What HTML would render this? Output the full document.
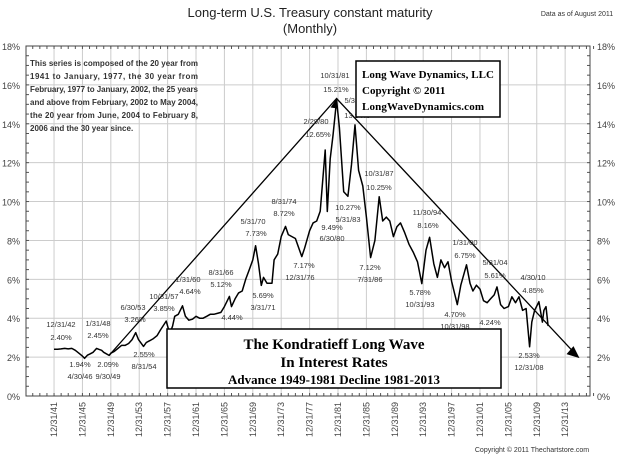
<!DOCTYPE html>
<html><head><meta charset="utf-8"><style>
body{margin:0;background:#fff;}
svg{display:block;font-family:"Liberation Sans",Arial,sans-serif;}
</style></head><body>
<svg id="c" width="620" height="456" viewBox="0 0 620 456">
<text x="310" y="17" text-anchor="middle" font-size="13" fill="#222">Long-term U.S. Treasury constant maturity</text>
<text x="310" y="33" text-anchor="middle" font-size="13" fill="#222">(Monthly)</text>
<text x="577" y="16" text-anchor="middle" font-size="7" fill="#333">Data as of August 2011</text>
<text x="532" y="452" text-anchor="middle" font-size="7" fill="#333">Copyright © 2011 Thechartstore.com</text>
<g id="grid"></g>
<g id="axes"></g>
<g id="series"></g>
<g id="notes"></g>
<g font-size="8" font-weight="bold" fill="#333">
<text x="30" y="66" textLength="168">This series is composed of the 20 year from</text>
<text x="30" y="79" textLength="168">1941 to January, 1977, the 30 year from</text>
<text x="30" y="92" textLength="168">February, 1977 to January, 2002, the 25 years</text>
<text x="30" y="105" textLength="168">and above from February, 2002 to May 2004,</text>
<text x="30" y="118" textLength="168">the 20 year from June, 2004 to February 8,</text>
<text x="30" y="131">2006 and the 30 year since.</text>
</g>
<g>
<rect x="356" y="61" width="144" height="56" fill="#fff" stroke="#000" stroke-width="1.5"/>
<text x="362" y="78" font-family="'Liberation Serif',serif" font-weight="bold" font-size="11" textLength="132">Long Wave Dynamics, LLC</text>
<text x="362" y="94" font-family="'Liberation Serif',serif" font-weight="bold" font-size="11">Copyright © 2011</text>
<text x="362" y="110" font-family="'Liberation Serif',serif" font-weight="bold" font-size="11" textLength="122">LongWaveDynamics.com</text>
</g>
<g>
<rect x="167" y="329" width="334" height="59" fill="#fff" stroke="#000" stroke-width="1.5"/>
<text x="334" y="349" text-anchor="middle" font-family="'Liberation Serif',serif" font-weight="bold" font-size="15">The Kondratieff Long Wave</text>
<text x="334" y="367" text-anchor="middle" font-family="'Liberation Serif',serif" font-weight="bold" font-size="15">In Interest Rates</text>
<text x="334" y="384" text-anchor="middle" font-family="'Liberation Serif',serif" font-weight="bold" font-size="13">Advance 1949-1981 Decline 1981-2013</text>
</g>
</svg>
<script>
const yearTicks=[1941,1945,1949,1953,1957,1961,1965,1969,1973,1977,1981,1985,1989,1993,1997,2001,2005,2009,2013];
const yTicks=[0,2,4,6,8,10,12,14,16,18];
const years=[1942,1942.5,1943,1943.5,1944,1944.5,1945,1945.5,1946,1946.3,1946.7,1947,1947.5,1948,1948.3,1948.7,1949,1949.75,1950,1950.5,1951,1951.5,1952,1952.5,1953,1953.5,1953.9,1954.6,1955,1955.5,1956,1956.5,1957,1957.8,1958.3,1958.7,1959,1959.5,1960.1,1960.5,1961,1961.5,1962,1962.5,1963,1963.5,1964,1964.5,1965,1965.5,1966,1966.7,1967,1967.5,1968,1968.5,1969,1969.5,1970,1970.4,1970.8,1971.2,1971.5,1972,1972.7,1973,1973.5,1974,1974.6,1975,1975.5,1976,1976.9,1977.3,1978,1978.5,1979,1979.5,1980.2,1980.5,1980.9,1981.3,1981.8,1982.2,1982.8,1983.4,1983.9,1984.4,1984.9,1985.5,1986,1986.6,1987.2,1987.8,1988.3,1988.8,1989.3,1989.8,1990.3,1990.8,1991.4,1992,1992.6,1993.2,1993.8,1994.4,1994.9,1995.5,1996,1996.5,1997,1997.5,1998,1998.8,1999.3,2000.1,2000.6,2001,2001.5,2002,2002.5,2003,2003.5,2004,2004.4,2004.9,2005.4,2006,2006.5,2007,2007.5,2008,2008.5,2008.99,2009.3,2009.7,2010.3,2010.8,2011,2011.3,2011.6];
const yields=[2.4,2.4,2.42,2.45,2.42,2.45,2.35,2.2,2.05,1.94,2.1,2.15,2.25,2.45,2.4,2.35,2.25,2.09,2.2,2.3,2.45,2.6,2.6,2.7,2.9,3.26,2.9,2.55,2.75,2.85,2.95,3.1,3.4,3.85,3.2,3.6,4.1,4.2,4.64,4.1,3.9,3.95,4.1,4.0,4.0,4.1,4.2,4.2,4.25,4.3,4.6,5.12,4.6,5.0,5.3,5.4,6.0,6.5,7.0,7.73,6.8,5.69,6.1,5.8,5.8,7.0,7.3,8.2,8.72,8.3,8.2,8.1,7.17,7.6,8.5,8.9,9.0,9.5,12.65,9.49,12.2,13.4,15.21,13.8,10.5,10.27,11.9,13.94,11.6,10.8,9.2,7.12,8.0,10.25,9.0,9.2,9.0,8.2,8.7,8.9,8.4,7.8,7.4,6.9,5.78,7.5,8.16,6.8,6.1,7.0,6.6,6.9,5.9,4.70,5.7,6.75,5.8,5.4,5.7,5.5,4.9,4.8,5.0,5.2,5.61,4.7,4.5,4.6,5.1,4.8,5.1,4.4,4.5,2.53,3.8,4.4,4.85,3.8,4.4,4.6,3.6];
const trendYears=[1949.75,1981.8,2015.6];
const trendVals=[2.09,15.3,2.1];
const L=26,R=590,T=46,B=396;
const X0=1938.05,X1=2017.5;
const x=v=>L+(v-X0)/(X1-X0)*(R-L);
const y=v=>B-v/18*(B-T);
const NS='http://www.w3.org/2000/svg';
function mk(parent,tag,at){const e=document.createElementNS(NS,tag);for(const k in at)e.setAttribute(k,at[k]);document.getElementById(parent).appendChild(e);return e;}
yTicks.forEach(t=>{
 if(t>0&&t<18){const g=mk('grid','line',{x1:L,x2:R,y1:y(t),y2:y(t),stroke:'#ccc','stroke-width':1});
 
 }
 const a=mk('axes','text',{x:20,y:y(t)+4,'text-anchor':'end','font-size':9,fill:'#444'});a.textContent=t+'%';
 
 
 const b=mk('axes','text',{x:597,y:y(t)+4,'font-size':9,fill:'#444'});b.textContent=t+'%';
 
 
 for(let m=0;m<4;m++){const v=t+m*0.5;if(v<=18){mk('axes','line',{x1:L,x2:L+3,y1:y(v),y2:y(v),stroke:'#555'});mk('axes','line',{x1:R-3,x2:R,y1:y(v),y2:y(v),stroke:'#555'});}}
});
yearTicks.forEach(yr=>{
 const px=x(yr+1);
 const g=mk('grid','line',{x1:px,x2:px,y1:T,y2:B,stroke:'#ccc','stroke-width':1});
 
 
 const t=mk('axes','text',{x:0,y:0,'text-anchor':'end','font-size':9,fill:'#444',transform:`translate(${px+3},${B+6}) rotate(-90)`});
 t.textContent='12/31/'+String(yr).slice(2);
 
 
});
for(let yr=1938;yr<=2017;yr++){mk('axes','line',{x1:x(yr+1),x2:x(yr+1),y1:B,y2:B-3,stroke:'#555'});mk('axes','line',{x1:x(yr+1),x2:x(yr+1),y1:T,y2:T+3,stroke:'#555'});}
mk('axes','rect',{x:L,y:T,width:R-L,height:B-T,fill:'none',stroke:'#444','stroke-width':1});
const p=mk('series','polyline',{points:years.map((v,i)=>x(v).toFixed(1)+','+y(yields[i]).toFixed(1)).join(' '),fill:'none',stroke:'#000','stroke-width':1.5,'stroke-linejoin':'round'});


const tl=mk('series','polyline',{points:trendYears.map((v,i)=>x(v).toFixed(1)+','+y(trendVals[i]).toFixed(1)).join(' '),fill:'none',stroke:'#000','stroke-width':1.3});


const ex=x(trendYears[2]),ey=y(trendVals[2]);
const ah=mk('series','polygon',{points:`${ex+3},${ey+3} ${ex-10},${ey-1} ${ex-3},${ey-9}`,fill:'#000'});


const px=x(trendYears[1]),py=y(trendVals[1]);
mk('series','polygon',{points:`${px},${py} ${px-6},${py+9} ${px+1},${py+10}`,fill:'#000'});
const notes=[["12/31/42",61,327],["2.40%",61,340],["1/31/48",98,326],["2.45%",98,338],["1.94%",80,367],["4/30/46",80,379],["2.09%",108,367],["9/30/49",108,379],["6/30/53",133,310],["3.26%",135,322],["2.55%",144,357],["8/31/54",144,369],["10/31/57",164,299],["3.85%",164,311],["1/31/60",188,282],["4.64%",190,294],["8/31/66",221,275],["5.12%",221,287],["4.44%",232,320],["5/31/70",253,224],["7.73%",256,236],["5.69%",263,298],["3/31/71",263,310],["8/31/74",284,204],["8.72%",284,216],["7.17%",304,268],["12/31/76",300,280],["10/31/81",335,78],["15.21%",336,92],["5/31/84",357,103],["13.94%",357,118],["2/29/80",316,124],["12.65%",318,137],["10/31/87",379,176],["10.25%",379,190],["10.27%",348,210],["5/31/83",348,222],["9.49%",332,230],["6/30/80",332,241],["11/30/94",427,215],["8.16%",428,228],["7.12%",370,270],["7/31/86",370,282],["5.78%",420,295],["10/31/93",420,307],["1/31/00",465,245],["6.75%",465,258],["4.70%",455,317],["10/31/98",455,329],["5/31/04",495,265],["5.61%",495,278],["4.24%",490,325],["4/30/10",533,280],["4.85%",533,293],["2.53%",529,358],["12/31/08",529,370]];
notes.forEach(n=>{const t=mk('notes','text',{x:n[1],y:n[2],'text-anchor':'middle','font-size':7.5,fill:'#333'});t.textContent=n[0];
 
 });
</script>
</body></html>
